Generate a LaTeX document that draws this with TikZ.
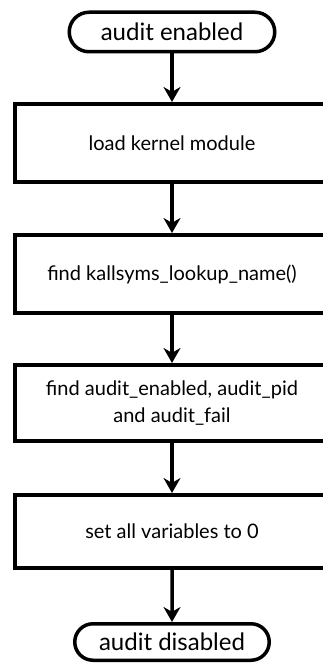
\documentclass[tikz,border=0pt]{standalone}
\usepackage{fontspec}
\setmainfont{Lato}
\usetikzlibrary{arrows.meta,shapes.misc}
\begin{document}
\begin{tikzpicture}[x=1pt,y=1pt,>={Stealth[length=15pt,width=17pt]},
  term/.style={rounded rectangle,draw,line width=3.5pt,minimum width=205.5pt,minimum height=39.5pt,inner sep=0pt,font=\fontsize{24}{28}\selectfont},
  stepbox/.style={rectangle,draw,line width=4pt,minimum width=314pt,align=center,inner sep=0pt,font=\fontsize{20}{27}\selectfont}]
\useasboundingbox (0,0) rectangle (322,-663);
\node[term] (start) at (172,-32) {audit enabled};
\node[stepbox,minimum height=78pt] (load) at (172,-143) {load kernel module};
\node[stepbox,minimum height=78pt] (find) at (172,-274) {find kallsyms\_lookup\_name()};
\node[stepbox,minimum height=76pt] (vars) at (172,-403) {find audit\_enabled, audit\_pid\\and audit\_fail};
\node[stepbox,minimum height=73pt] (zero) at (172,-531.5) {set all variables to 0};
\node[term,minimum width=194.5pt,minimum height=36.5pt] (stop) at (172,-642) {audit disabled};

\draw[->,line width=3.5pt] (start) -- (load);
\draw[->,line width=3.5pt] (load) -- (find);
\draw[->,line width=3.5pt] (find) -- (vars);
\draw[->,line width=3.5pt] (vars) -- (zero);
\draw[->,line width=3.5pt] (zero) -- (stop);
\end{tikzpicture}
\end{document}
